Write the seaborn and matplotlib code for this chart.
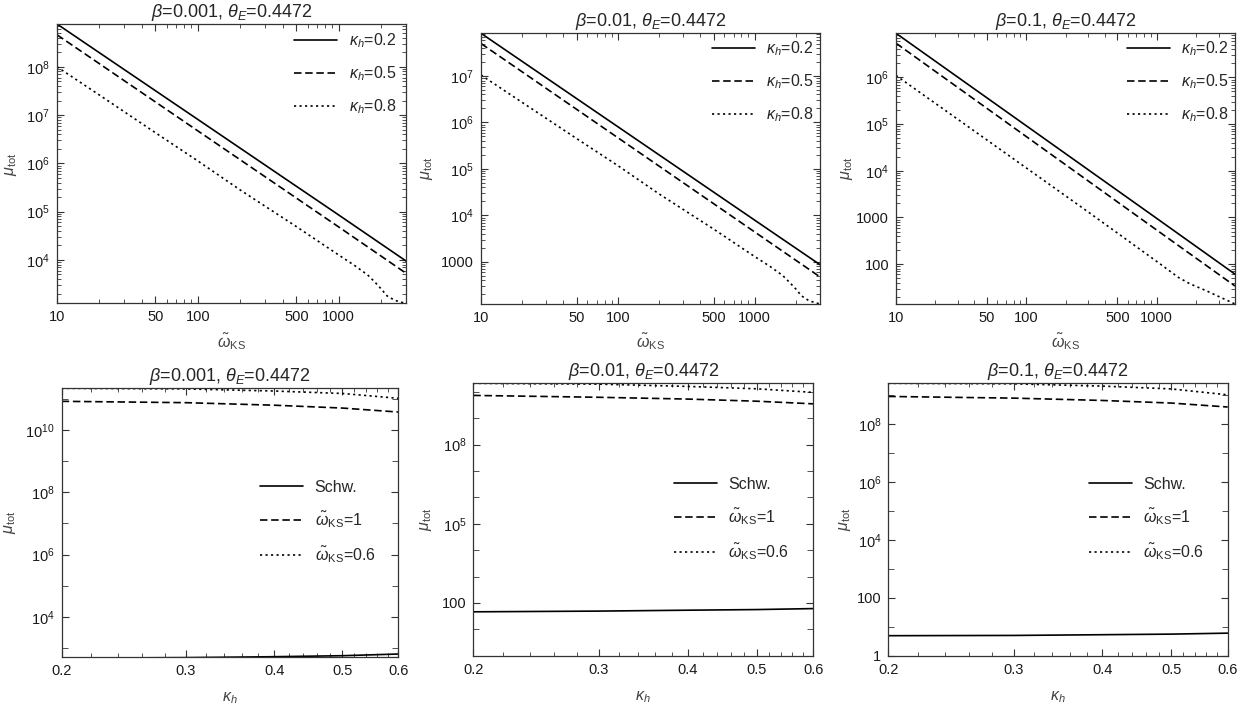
import numpy as np
import pandas as pd
import matplotlib
matplotlib.use('Agg')
import matplotlib.pyplot as plt
import matplotlib.ticker as mticker
import seaborn as sns

sns.set_theme(style='ticks')
plt.rcParams['font.family'] = ['Liberation Sans', 'DejaVu Sans']
plt.rcParams['mathtext.fontset'] = 'custom'
plt.rcParams['mathtext.rm'] = 'Liberation Sans'
plt.rcParams['mathtext.it'] = 'Liberation Sans:italic'
plt.rcParams['mathtext.bf'] = 'Liberation Sans:bold'

# ---- data ----
betas = ['0.001', '0.01', '0.1']
kappa_labels = [r'$\kappa_h$=0.2', r'$\kappa_h$=0.5', r'$\kappa_h$=0.8']
omega_labels = ['Schw.', r'$\tilde{\omega}_{\mathrm{KS}}$=1', r'$\tilde{\omega}_{\mathrm{KS}}$=0.6']

# top row: mu_tot vs omega_KS
omega_line = [10, 100, 1000, 3000]
omega_line_r = [10, 100, 1000, 4000]
omega_dot = [10, 20, 50, 100, 200, 500, 1000, 1300, 1600, 1800, 2000, 2200, 2500, 3000]
omega_dot_r = [10, 30, 100, 300, 1000, 1470, 1800, 2400, 4000]

tl_k02 = [7.7e8, 8.1e6, 8.5e4, 9.5e3]
tl_k05 = [4.6e8, 4.7e6, 4.8e4, 5.3e3]
tl_k08 = [1.0e8, 2.6e7, 4.3e6, 1.12e6, 2.8e5, 4.9e4, 1.26e4, 7.6e3, 4.9e3,
          3.5e3, 2.5e3, 1.8e3, 1.45e3, 1.25e3]

tm_k02 = [8.3e7, 8.1e5, 7.9e3, 870]
tm_k05 = [5.0e7, 4.7e5, 4.4e3, 475]
tm_k08 = [1.05e7, 2.7e6, 4.5e5, 1.18e5, 2.9e4, 5.1e3, 1.3e3, 790, 510,
          360, 260, 185, 145, 124]

tr_k02 = [8.8e6, 9.2e4, 960, 61]
tr_k05 = [5.4e6, 5.4e4, 540, 34]
tr_k08 = [1.1e6, 1.25e5, 1.15e4, 1.3e3, 115, 52, 38, 27, 14]

# bottom row: mu_tot vs kappa_h
kappa = [0.2, 0.3, 0.4, 0.5, 0.6]
bl_schw = [470, 490, 525, 565, 640]
bl_w1 = [8.4e10, 7.6e10, 6.3e10, 5.1e10, 3.8e10]
bl_w06 = [2.2e11, 2.1e11, 1.8e11, 1.5e11, 1.05e11]

bm_schw = [46, 49, 53, 56, 61]
bm_w1 = [7.3e9, 6.2e9, 5.3e9, 4.4e9, 3.5e9]
bm_w06 = [2.1e10, 1.95e10, 1.6e10, 1.3e10, 9.5e9]

br_schw = [4.9, 5.0, 5.3, 5.55, 6.0]
br_w1 = [8.8e8, 7.7e8, 6.4e8, 5.2e8, 3.8e8]
br_w06 = [2.5e9, 2.4e9, 2.0e9, 1.6e9, 1.0e9]

top_panels = [
    [(omega_line, tl_k02), (omega_line, tl_k05), (omega_dot, tl_k08)],
    [(omega_line, tm_k02), (omega_line, tm_k05), (omega_dot, tm_k08)],
    [(omega_line_r, tr_k02), (omega_line_r, tr_k05), (omega_dot_r, tr_k08)],
]
bottom_panels = [
    [(kappa, bl_schw), (kappa, bl_w1), (kappa, bl_w06)],
    [(kappa, bm_schw), (kappa, bm_w1), (kappa, bm_w06)],
    [(kappa, br_schw), (kappa, br_w1), (kappa, br_w06)],
]
bottom_ymin = [525, 1, 1]
bottom_major = [range(0, 13, 2), range(-1, 13, 3), range(0, 13, 2)]

# ---- layout (pixel boxes: left, top, right, bottom) ----
W, H = 1260, 711
top_boxes = [(57, 24, 406, 303.5), (481, 33.3, 820, 304), (896, 33.3, 1235, 304)]
bot_boxes = [(61.7, 388.3, 398.3, 656.7), (473.3, 383.3, 813.3, 655.7),
             (888.3, 383.3, 1227.7, 655.7)]
top_ylab_x = [-0.11, -0.135, -0.12]
bot_ylab_x = [-0.13, -0.115, -0.105]

styles = ['-', (0, (4.5, 2.2)), (0, (1.3, 2.0))]
frame_col = '#333333'


def mu_fmt(v, pos):
    if v < 1e4:
        return f'{v:.0f}'
    return r'$10^{%d}$' % round(np.log10(v))


def add_ax(box):
    l, t, r, b = box
    return fig.add_axes([l / W, 1 - b / H, (r - l) / W, (b - t) / H])


def style_ax(ax):
    for sp in ax.spines.values():
        sp.set_color(frame_col)
        sp.set_linewidth(0.9)
    ax.tick_params(which='both', direction='in', top=True, right=True,
                   color=frame_col, labelcolor='#1a1a1a', labelsize=10.5)
    ax.tick_params(which='major', length=5, width=0.8, pad=5)
    ax.tick_params(which='minor', length=2.6, width=0.6)


fig = plt.figure(figsize=(W / 100, H / 100), dpi=100)

for i, (box, series) in enumerate(zip(top_boxes, top_panels)):
    ax = add_ax(box)
    ax.set_xscale('log')
    ax.set_yscale('log')
    for (xs, ys), lab, ls in zip(series, kappa_labels, styles):
        df = pd.DataFrame({'omega': xs, 'mu': ys})
        sns.lineplot(data=df, x='omega', y='mu', ax=ax, color='black',
                     linewidth=1.2, linestyle=ls, label=lab, estimator=None)
    allx = [x for xs, _ in series for x in xs]
    ally = [y for _, ys in series for y in ys]
    ax.set_xlim(min(allx), max(allx))
    ax.set_ylim(min(ally), max(ally))
    ax.xaxis.set_major_locator(mticker.FixedLocator([10, 50, 100, 500, 1000]))
    ax.xaxis.set_major_formatter(mticker.FuncFormatter(lambda v, p: f'{v:g}'))
    ax.xaxis.set_minor_locator(mticker.FixedLocator(
        [20, 30, 40, 60, 70, 80, 90, 200, 300, 400, 600, 700, 800, 900, 2000, 3000, 4000]))
    ax.xaxis.set_minor_formatter(mticker.NullFormatter())
    ax.yaxis.set_major_locator(mticker.LogLocator(base=10, numticks=30))
    ax.yaxis.set_major_formatter(mticker.FuncFormatter(mu_fmt))
    ax.yaxis.set_minor_locator(mticker.LogLocator(base=10, subs=np.arange(2, 10), numticks=30))
    ax.yaxis.set_minor_formatter(mticker.NullFormatter())
    style_ax(ax)
    ax.set_title(rf'$\beta$={betas[i]}, $\theta_E$=0.4472', fontsize=13, pad=5)
    ax.set_xlabel(r'$\tilde{\omega}_{\mathrm{KS}}$', fontsize=11.5, color='#444444')
    ax.set_ylabel(r'$\mu_{\mathrm{tot}}$', fontsize=11.5, color='#444444')
    ax.xaxis.set_label_coords(0.5, -0.10)
    ax.yaxis.set_label_coords(top_ylab_x[i], 0.5)
    ax.legend(loc='center left', bbox_to_anchor=(0.68, 0.821), frameon=False,
              fontsize=11.5, handlelength=2.7, handletextpad=0.7, labelspacing=0.9,
              borderpad=0, borderaxespad=0)

for i, (box, series) in enumerate(zip(bot_boxes, bottom_panels)):
    ax = add_ax(box)
    ax.set_xscale('log')
    ax.set_yscale('log')
    for (xs, ys), lab, ls in zip(series, omega_labels, styles):
        df = pd.DataFrame({'kappa': xs, 'mu': ys})
        sns.lineplot(data=df, x='kappa', y='mu', ax=ax, color='black',
                     linewidth=1.2, linestyle=ls, label=lab, estimator=None)
    ally = [y for _, ys in series for y in ys]
    ax.set_xlim(min(kappa), max(kappa))
    ax.set_ylim(bottom_ymin[i], max(ally))
    ax.xaxis.set_major_locator(mticker.FixedLocator([0.2, 0.3, 0.4, 0.5, 0.6]))
    ax.xaxis.set_major_formatter(mticker.FuncFormatter(lambda v, p: f'{v:.1f}'))
    ax.xaxis.set_minor_locator(mticker.FixedLocator(
        [0.22, 0.24, 0.26, 0.28, 0.32, 0.34, 0.36, 0.38, 0.42, 0.44, 0.46, 0.48,
         0.52, 0.54, 0.56, 0.58]))
    ax.xaxis.set_minor_formatter(mticker.NullFormatter())
    ax.yaxis.set_major_locator(mticker.FixedLocator([10.0 ** k for k in bottom_major[i]]))
    ax.yaxis.set_major_formatter(mticker.FuncFormatter(mu_fmt))
    ax.yaxis.set_minor_locator(mticker.FixedLocator([10.0 ** k for k in range(-1, 13)]))
    ax.yaxis.set_minor_formatter(mticker.NullFormatter())
    style_ax(ax)
    ax.tick_params(which='minor', axis='y', length=4)
    ax.set_title(rf'$\beta$={betas[i]}, $\theta_E$=0.4472', fontsize=13, pad=5)
    ax.set_xlabel(r'$\kappa_h$', fontsize=11.5, color='#444444')
    ax.set_ylabel(r'$\mu_{\mathrm{tot}}$', fontsize=11.5, color='#444444')
    ax.xaxis.set_label_coords(0.5, -0.125)
    ax.yaxis.set_label_coords(bot_ylab_x[i], 0.5)
    ax.legend(loc='center left', bbox_to_anchor=(0.59, 0.50), frameon=False,
              fontsize=11.5, handlelength=2.7, handletextpad=0.7, labelspacing=0.9,
              borderpad=0, borderaxespad=0)

fig.savefig('out.png', dpi=100)
